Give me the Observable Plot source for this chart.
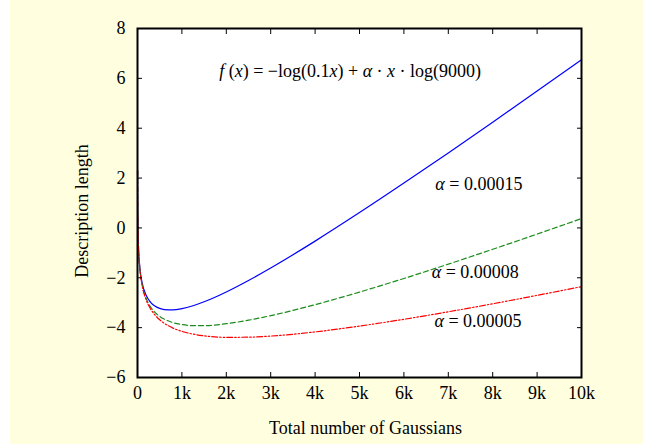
<!DOCTYPE html>
<html>
<head>
<meta charset="utf-8">
<script src="https://cdn.jsdelivr.net/npm/d3@7"></script>
<script src="https://cdn.jsdelivr.net/npm/@observablehq/plot@0.6"></script>
<style>
  body { margin: 0; }
  #wrap { position: relative; width: 647px; height: 444px; background: #ffffff; overflow: hidden; }
  #bg { position: absolute; left: 10px; top: 0; width: 633px; height: 444px; background: #ffffe0; }
  #chart { position: absolute; left: 0; top: 0; }
  #chart svg text.anno { font-family: "Liberation Serif", "Times New Roman", serif; font-size: 18px; fill: #000; }
</style>
</head>
<body>
<div id="wrap"><div id="bg"></div><div id="chart"></div></div>
<script>
// Number of Gaussians (x) at which the curves are read
const xs = [1, 2, 5, 10, 20, 50, 100, 200, 300, 400, 500, 600, 800, 1000, 1250, 1500, 2000, 2500, 3000, 4000, 5000, 6000, 7000, 8000, 9000, 10000];
// Description length, alpha = 0.00015 (blue, solid)
const blue = [2.304, 1.612, 0.700, 0.014, -0.666, -1.541, -2.166, -2.723, -2.992, -3.143, -3.229, -3.275, -3.289, -3.239, -3.121, -2.962, -2.567, -2.107, -1.607, -0.529, 0.614, 1.798, 3.009, 4.241, 5.489, 6.750];
// alpha = 0.00008 (green, dashed)
const green = [2.303, 1.611, 0.697, 0.007, -0.679, -1.573, -2.230, -2.850, -3.183, -3.398, -3.548, -3.657, -3.799, -3.877, -3.918, -3.918, -3.842, -3.701, -3.519, -3.078, -2.573, -2.027, -1.452, -0.857, -0.247, 0.376];
// alpha = 0.00005 (red, dash-dot-dot)
const red = [2.303, 1.610, 0.695, 0.005, -0.684, -1.587, -2.257, -2.905, -3.265, -3.507, -3.684, -3.821, -4.018, -4.150, -4.259, -4.328, -4.388, -4.383, -4.338, -4.171, -3.938, -3.665, -3.364, -3.043, -2.705, -2.355];

const xTicks = [0, 1000, 2000, 3000, 4000, 5000, 6000, 7000, 8000, 9000, 10000];
const xTickLabels = ["0", "1k", "2k", "3k", "4k", "5k", "6k", "7k", "8k", "9k", "10k"];
const yTicks = [-6, -4, -2, 0, 2, 4, 6, 8];

// Annotations: [x, y(baseline), parts as [text, italic]]
const formulaPos = [4800, 6.03];
const formulaParts = [["f", 1], [" (", 0], ["x", 1], [") = \u2212log(0.1", 0], ["x", 1], [") + ", 0], ["\u03b1", 1], [" \u00b7 ", 0], ["x", 1], [" \u00b7 log(9000)", 0]];
const alphaLabels = ["0.00015", "0.00008", "0.00005"];
const alphaX = [7700, 7620, 7680];
const alphaY = [1.50, -2.03, -3.99];

const series = [
  {name: "0.00015", vals: blue, color: "#0000ff", dash: null},
  {name: "0.00008", vals: green, color: "#1a8c1a", dash: "5,3"},
  {name: "0.00005", vals: red, color: "#ff0000", dash: "6,2,1.5,2,1.5,2"}
];

const lineMarks = series.map(s =>
  Plot.line(xs.map((x, i) => ({x, y: s.vals[i]})), {
    x: "x", y: "y", stroke: s.color, strokeWidth: 1.2,
    strokeDasharray: s.dash, curve: "monotone-x"
  })
);

const fmtY = d => d < 0 ? "\u2212" + (-d) : String(d);
const fmtX = d => xTickLabels[xTicks.indexOf(d)];

const chart = Plot.plot({
  width: 647,
  height: 444,
  marginLeft: 137,
  marginRight: 66,
  marginTop: 28,
  marginBottom: 67,
  style: {background: "transparent", fontFamily: "'Liberation Serif', 'Times New Roman', serif", fontSize: "18px", color: "#000"},
  x: {domain: [0, 10000]},
  y: {domain: [-6, 8]},
  marks: [
    Plot.frame({fill: "white", stroke: null}),
    ...lineMarks,
    Plot.axisX({anchor: "bottom", ticks: xTicks, tickSize: -5, tickPadding: 14, tickFormat: fmtX,
      label: "Total number of Gaussians", labelAnchor: "center", labelOffset: 56, labelArrow: "none"}),
    Plot.axisX({anchor: "top", ticks: xTicks, tickSize: -5, tickFormat: () => "", label: null}),
    Plot.axisY({anchor: "left", ticks: yTicks, tickSize: -5, tickPadding: 17, tickFormat: fmtY,
      label: "Description length", labelAnchor: "center", labelOffset: 62, labelArrow: "none"}),
    Plot.axisY({anchor: "right", ticks: yTicks, tickSize: -5, tickFormat: () => "", label: null}),
    Plot.frame({stroke: "black", strokeWidth: 2})
  ]
});

document.getElementById("chart").appendChild(chart);

const svg = d3.select(chart);
// nudge axis labels to match the original placement
svg.selectAll('g[aria-label="y-axis label"] text').attr("dx", -8);
svg.selectAll('g[aria-label="x-axis label"] text').attr("dx", 6);

// add math-style annotations with italic parts
const sx = chart.scale("x"), sy = chart.scale("y");
function addText(x, y, parts) {
  const t = svg.append("text")
    .attr("class", "anno")
    .attr("x", sx.apply(x)).attr("y", sy.apply(y))
    .attr("text-anchor", "middle")
    .style("font-family", "'Liberation Serif', 'Times New Roman', serif")
    .style("font-size", "18px")
    .style("white-space", "pre");
  parts.forEach(([s, it]) => {
    t.append("tspan").style("font-style", it ? "italic" : "normal").text(s);
  });
}
addText(formulaPos[0], formulaPos[1], formulaParts);
alphaLabels.forEach((lab, i) => addText(alphaX[i], alphaY[i], [["\u03b1", 1], [" = " + lab, 0]]));
</script>
</body>
</html>
